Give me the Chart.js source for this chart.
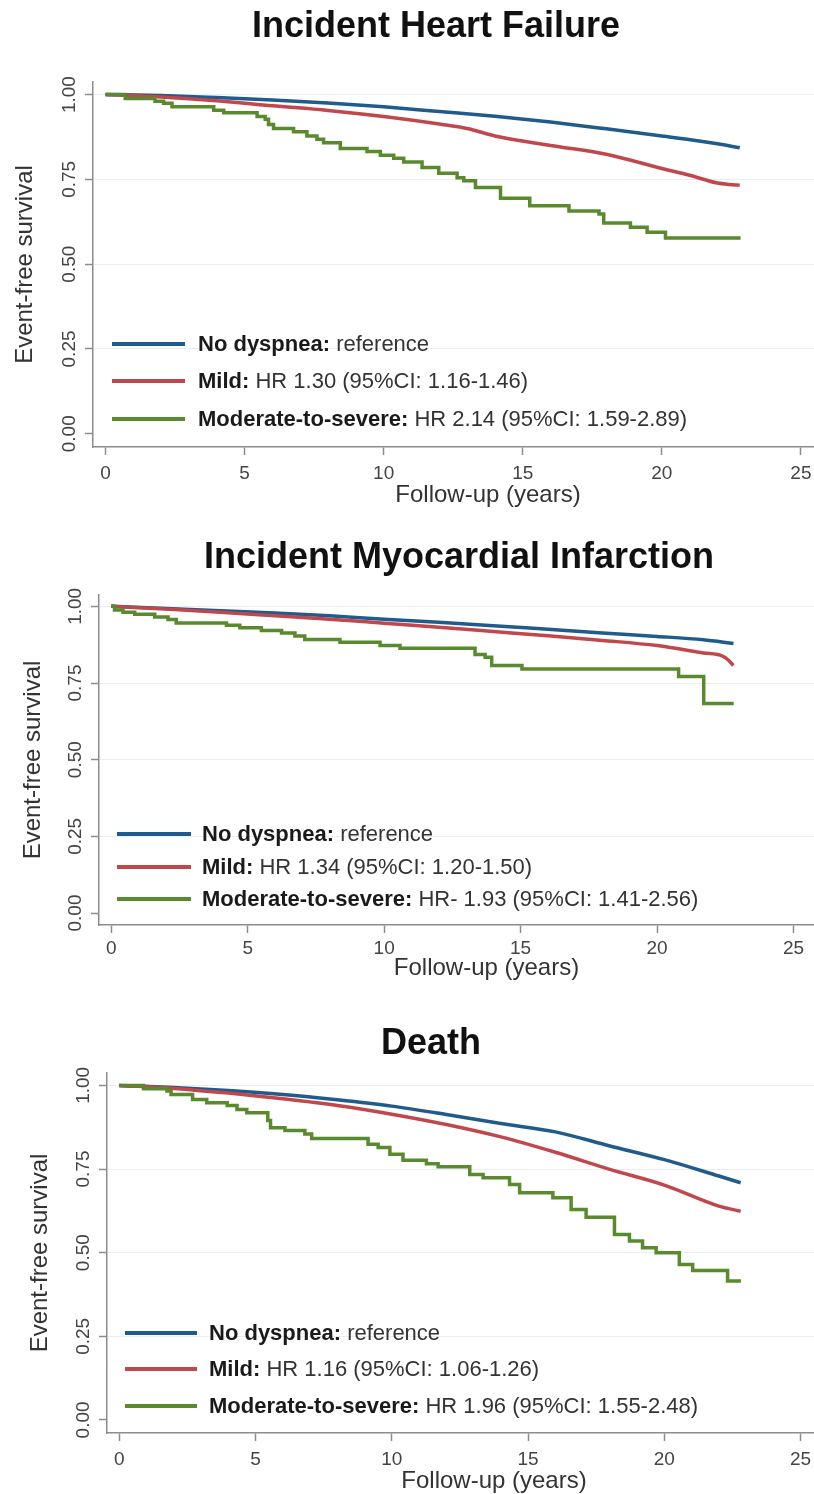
<!DOCTYPE html>
<html>
<head>
<meta charset="utf-8">
<script src="https://cdn.jsdelivr.net/npm/chart.js@4.4.1/dist/chart.umd.min.js"></script>
<style>
html,body{margin:0;padding:0;background:#fff;overflow:hidden;}
body{width:814px;height:1494px;position:relative;font-family:"Liberation Sans",Arial,Helvetica,sans-serif;}
canvas{position:absolute;left:0;}
.title{position:absolute;font-weight:bold;font-size:36px;line-height:40px;height:40px;white-space:nowrap;transform:translateX(-50%);color:#111;}
.row{position:absolute;white-space:nowrap;height:30px;line-height:30px;font-size:22px;color:#333;}
.row b{color:#1a1a1a;}
.swatch{position:absolute;height:4px;}
</style>
</head>
<body>
<script>
// ---------------- DATA ----------------
const xTickValues = [0, 5, 10, 15, 20, 25];
const yTickValues = [0, 0.25, 0.5, 0.75, 1];
const groupNames = ['No dyspnea:', 'Mild:', 'Moderate-to-severe:'];
const panelTitles = ['Incident Heart Failure', 'Incident Myocardial Infarction', 'Death'];
const xAxisTitle = 'Follow-up (years)';
const yAxisTitle = 'Event-free survival';

// Incident heart failure
const hfStats = ['reference', 'HR 1.30 (95%CI: 1.16-1.46)', 'HR 2.14 (95%CI: 1.59-2.89)'];
const hfNoneT = [0, 2, 4, 6, 8, 10, 12, 14, 16, 18, 20, 22, 22.8];
const hfNoneS = [1.00, 0.997, 0.991, 0.984, 0.975, 0.964, 0.950, 0.936, 0.919, 0.899, 0.878, 0.855, 0.843];
const hfMildT = [0, 2, 4, 6, 8, 10, 12, 13, 14, 16, 18, 20, 21, 22, 22.4, 22.8];
const hfMildS = [1.00, 0.993, 0.982, 0.967, 0.953, 0.935, 0.913, 0.900, 0.878, 0.850, 0.824, 0.782, 0.762, 0.739, 0.735, 0.733];
const hfModT = [0, 0.71, 1.78, 2.09, 2.39, 3.89, 4.25, 5.45, 5.74, 5.86, 6.04, 6.76, 7.24, 7.60, 7.84, 8.44, 9.40, 9.88, 10.36, 10.72, 11.38, 11.98, 12.64, 12.88, 13.3, 14.2, 15.25, 16.66, 17.74, 17.91, 18.87, 19.47, 20.13, 22.83];
const hfModS = [1.00, 0.988, 0.980, 0.974, 0.964, 0.954, 0.946, 0.935, 0.927, 0.912, 0.900, 0.890, 0.878, 0.868, 0.858, 0.841, 0.832, 0.821, 0.812, 0.801, 0.785, 0.768, 0.755, 0.746, 0.726, 0.694, 0.672, 0.657, 0.648, 0.621, 0.609, 0.594, 0.577, 0.577];

// Incident myocardial infarction
const miStats = ['reference', 'HR 1.34 (95%CI: 1.20-1.50)', 'HR- 1.93 (95%CI: 1.41-2.56)'];
const miNoneT = [0, 2, 4, 6, 8, 10, 12, 14, 16, 18, 20, 21.7, 22.8];
const miNoneS = [1.00, 0.993, 0.986, 0.978, 0.969, 0.958, 0.948, 0.937, 0.925, 0.913, 0.902, 0.891, 0.879];
const miMildT = [0, 2, 4, 6, 8, 10, 12, 14, 16, 18, 20, 21.7, 22.4, 22.6, 22.8];
const miMildS = [1.00, 0.991, 0.981, 0.969, 0.958, 0.945, 0.932, 0.918, 0.904, 0.889, 0.872, 0.848, 0.838, 0.826, 0.807];
const miModT = [0, 0.12, 0.43, 0.86, 1.59, 2.08, 2.38, 4.22, 4.71, 5.5, 6.24, 6.73, 7.09, 8.38, 9.85, 10.58, 13.33, 13.7, 13.94, 15.05, 20.79, 21.71, 22.81];
const miModS = [1.00, 0.988, 0.981, 0.974, 0.965, 0.957, 0.946, 0.938, 0.930, 0.921, 0.913, 0.903, 0.892, 0.883, 0.872, 0.863, 0.843, 0.834, 0.807, 0.796, 0.771, 0.683, 0.683];

// Death
const dStats = ['reference', 'HR 1.16 (95%CI: 1.06-1.26)', 'HR 1.96 (95%CI: 1.55-2.48)'];
const dNoneT = [0, 2, 4, 6, 8, 10, 12, 14, 16, 18, 20, 22, 22.8];
const dNoneS = [1.00, 0.994, 0.985, 0.973, 0.957, 0.938, 0.913, 0.886, 0.861, 0.819, 0.778, 0.729, 0.709];
const dMildT = [0, 2, 4, 6, 8, 10, 12, 14, 16, 18, 20, 22, 22.8];
const dMildS = [1.00, 0.991, 0.977, 0.960, 0.940, 0.914, 0.883, 0.846, 0.800, 0.749, 0.702, 0.639, 0.624];
const dModT = [0, 0.89, 1.75, 1.9, 2.69, 3.21, 3.96, 4.32, 4.68, 5.45, 5.55, 6.08, 6.81, 7.06, 9.13, 9.5, 9.93, 10.41, 11.27, 11.7, 12.86, 13.35, 14.32, 14.69, 15.91, 16.58, 17.13, 18.17, 18.72, 19.2, 19.7, 20.55, 21.04, 22.32, 22.81];
const dModS = [1.00, 0.990, 0.983, 0.973, 0.958, 0.948, 0.940, 0.928, 0.918, 0.895, 0.873, 0.865, 0.855, 0.841, 0.824, 0.814, 0.794, 0.776, 0.766, 0.757, 0.734, 0.724, 0.704, 0.679, 0.664, 0.629, 0.606, 0.554, 0.535, 0.515, 0.500, 0.465, 0.447, 0.415, 0.415];

// ---------------- STYLE / LAYOUT ----------------
const colors = ['#1f5b8c', '#c0474c', '#5a8a2e'];
const FONT = '"Liberation Sans", Arial, Helvetica, sans-serif';

const panels = [
  { title: panelTitles[0], titleX: 436, titleTop: 5, top: 0, height: 515, width: 883, padTop: 82, yWidth: 93, xHeight: 68,
    xTickPad: 7, xTitlePad: 5, yTitlePad: 11, stats: hfStats,
    series: [[hfNoneT, hfNoneS], [hfMildT, hfMildS], [hfModT, hfModS]],
    legend: { rows: [344, 381, 419], x0: 112, x1: 185, tx: 198 } },
  { title: panelTitles[1], titleX: 459, titleTop: 536, top: 525, height: 463, width: 874, padTop: 70, yWidth: 99, xHeight: 63,
    xTickPad: 4, xTitlePad: 5, yTitlePad: 19, stats: miStats,
    series: [[miNoneT, miNoneS], [miMildT, miMildS], [miModT, miModS]],
    legend: { rows: [834, 867, 899], x0: 117, x1: 191, tx: 202 } },
  { title: panelTitles[2], titleX: 431, titleTop: 1022, top: 1000, height: 494, width: 881, padTop: 73, yWidth: 107, xHeight: 61,
    xTickPad: 7, xTitlePad: -2, yTitlePad: 26, stats: dStats,
    series: [[dNoneT, dNoneS], [dMildT, dMildS], [dModT, dModS]],
    legend: { rows: [1333, 1369, 1406], x0: 125, x1: 197, tx: 209 } }
];

function makePanel(p, idx) {
  const cv = document.createElement('canvas');
  cv.width = p.width; cv.height = p.height;
  cv.style.top = p.top + 'px';
  cv.style.width = p.width + 'px'; cv.style.height = p.height + 'px';
  document.body.appendChild(cv);

  const datasets = p.series.map((s, i) => ({
    label: groupNames[i] + ' ' + p.stats[i],
    data: s[0].map((t, k) => ({ x: t, y: s[1][k] })),
    borderColor: colors[i],
    backgroundColor: colors[i],
    borderWidth: 3.5,
    pointRadius: 0,
    fill: false,
    stepped: i === 2 ? true : false,
    cubicInterpolationMode: i === 2 ? 'default' : 'monotone',
    tension: i === 2 ? 0 : 0.4,
    borderJoinStyle: 'miter',
    order: 3 - i
  }));

  new Chart(cv, {
    type: 'line',
    data: { datasets },
    options: {
      responsive: false,
      animation: false,
      devicePixelRatio: 1,
      layout: { padding: { top: p.padTop, left: 0, right: 0, bottom: 0 } },
      plugins: { legend: { display: false }, tooltip: { enabled: false }, title: { display: false } },
      scales: {
        x: {
          type: 'linear', min: -0.45, max: 27.95,
          afterBuildTicks: s => { s.ticks = xTickValues.map(v => ({ value: v })); },
          afterFit: s => { s.height = p.xHeight; },
          ticks: { font: { size: 19, family: FONT }, color: '#444', padding: p.xTickPad, maxRotation: 0, autoSkip: false },
          grid: { drawOnChartArea: false, drawTicks: true, tickLength: 8, tickColor: '#8c8c8c', tickWidth: 1.5 },
          border: { display: true, color: '#8c8c8c', width: 1.5 },
          title: { display: true, text: xAxisTitle, font: { size: 24, family: FONT }, color: '#333', padding: { top: 0, bottom: p.xTitlePad } }
        },
        y: {
          type: 'linear', min: -0.039, max: 1.037,
          afterBuildTicks: s => { s.ticks = yTickValues.map(v => ({ value: v })); },
          afterFit: s => { s.width = p.yWidth; },
          ticks: { font: { size: 19, family: FONT }, color: '#444', minRotation: 90, maxRotation: 90, crossAlign: 'center', padding: -3,
                   callback: v => Number(v).toFixed(2) },
          grid: { color: c => (c.tick && c.tick.value === 0) ? 'rgba(0,0,0,0)' : '#e9eef1', lineWidth: 1,
                  drawTicks: true, tickLength: 8, tickColor: '#8c8c8c', tickWidth: 1.5 },
          border: { display: true, color: '#8c8c8c', width: 1.5 },
          title: { display: true, text: yAxisTitle, font: { size: 24, family: FONT }, color: '#333', padding: { top: p.yTitlePad, bottom: 0 } }
        }
      }
    }
  });

  const t = document.createElement('div');
  t.className = 'title';
  t.style.left = p.titleX + 'px';
  t.style.top = p.titleTop + 'px';
  t.textContent = p.title;
  document.body.appendChild(t);

  p.legend.rows.forEach((cy, i) => {
    const sw = document.createElement('div');
    sw.className = 'swatch';
    sw.style.left = p.legend.x0 + 'px';
    sw.style.width = (p.legend.x1 - p.legend.x0) + 'px';
    sw.style.top = (cy - 2) + 'px';
    sw.style.background = colors[i];
    document.body.appendChild(sw);
    const r = document.createElement('div');
    r.className = 'row';
    r.style.left = p.legend.tx + 'px';
    r.style.top = (cy - 15) + 'px';
    const b = document.createElement('b');
    b.textContent = groupNames[i];
    r.appendChild(b);
    r.appendChild(document.createTextNode(' ' + p.stats[i]));
    document.body.appendChild(r);
  });
}

panels.forEach(makePanel);
</script>
</body>
</html>
